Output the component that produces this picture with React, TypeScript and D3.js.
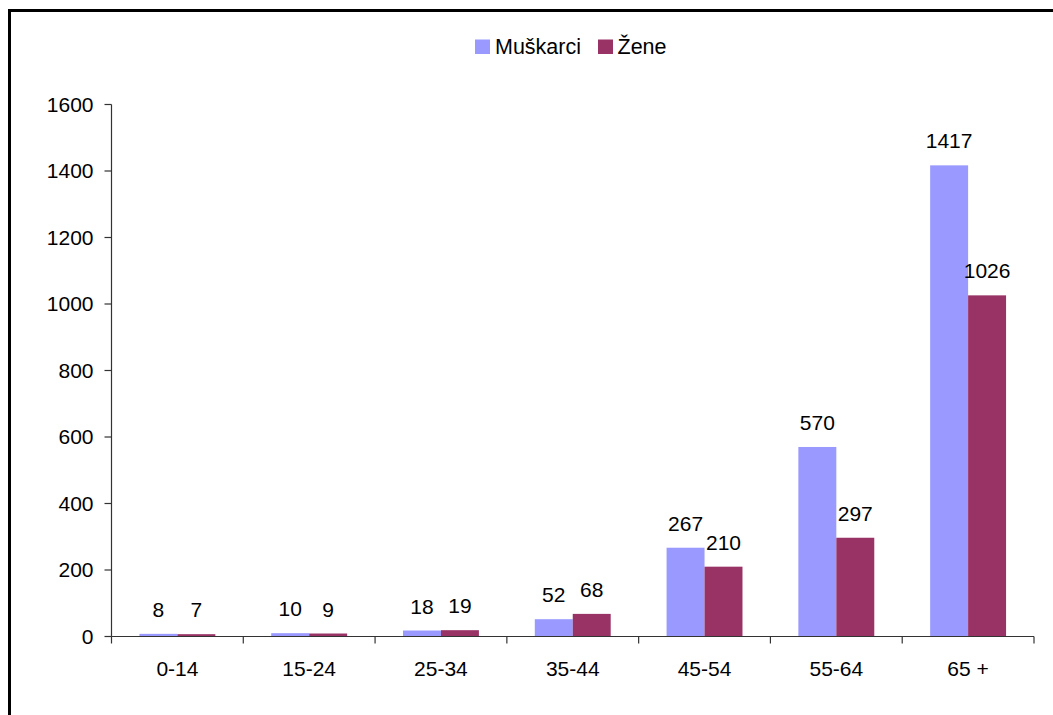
import React from "react";
import * as d3 from "d3";

const categories = ["0-14", "15-24", "25-34", "35-44", "45-54", "55-64", "65 +"];
const men = [8, 10, 18, 52, 267, 570, 1417];
const women = [7, 9, 19, 68, 210, 297, 1026];
const seriesNames = ["Muškarci", "Žene"];
const seriesColors = ["#9999FF", "#993366"];
const yTicks = [0, 200, 400, 600, 800, 1000, 1200, 1400, 1600];

const W = 1053;
const H = 715;
const left = 111.5;
const right = 1034;
const top = 104.5;
const bottom = 636.5;
const FONT = "Arial, 'Liberation Sans', sans-serif";
const FS = 21;

export default function App() {
  const y = d3.scaleLinear().domain([0, 1600]).range([bottom, top]);
  const pad = 0.424;
  const x = d3
    .scaleBand<string>()
    .domain(categories)
    .range([left, right])
    .paddingInner(pad)
    .paddingOuter(pad / 2);
  const inner = d3
    .scaleBand<number>()
    .domain([0, 1])
    .range([0, x.bandwidth()]);
  const step = x.step();
  const series = [men, women];

  return (
    <svg
      width={W}
      height={H}
      style={{ position: "absolute", left: 0, top: 0, background: "#fff" }}
      fontFamily={FONT}
    >
      <rect x={0} y={0} width={W} height={H} fill="#fff" />
      <rect x={9.5} y={10.5} width={W + 20} height={H + 20} fill="none" stroke="#000" strokeWidth={3} />

      {/* legend */}
      <g>
        <rect x={475} y={39.5} width={15} height={14.5} fill={seriesColors[0]} />
        <text x={495} y={53.5} fontSize={FS + 0.5} fill="#000">{seriesNames[0]}</text>
        <rect x={598} y={39.5} width={15} height={14.5} fill={seriesColors[1]} />
        <text x={617.5} y={53.5} fontSize={FS + 0.5} fill="#000">{seriesNames[1]}</text>
      </g>

      {/* bars */}
      {series.map((vals, si) =>
        vals.map((v, i) => {
          const bx = (x(categories[i]) as number) + (inner(si) as number);
          return (
            <rect
              key={`b${si}-${i}`}
              x={bx}
              y={y(v)}
              width={inner.bandwidth()}
              height={y(0) - y(v)}
              fill={seriesColors[si]}
            />
          );
        })
      )}

      {/* value labels */}
      {series.map((vals, si) =>
        vals.map((v, i) => {
          const bx = (x(categories[i]) as number) + (inner(si) as number) + inner.bandwidth() / 2;
          return (
            <text
              key={`l${si}-${i}`}
              x={bx}
              y={y(v) - 17}
              fontSize={FS}
              textAnchor="middle"
              fill="#000"
            >
              {v}
            </text>
          );
        })
      )}

      {/* y axis */}
      <line x1={left} x2={left} y1={top} y2={bottom} stroke="#333" strokeWidth={1.2} />
      {yTicks.map((t) => (
        <g key={`yt${t}`}>
          <line x1={left - 7} x2={left} y1={y(t)} y2={y(t)} stroke="#333" strokeWidth={1.2} />
          <text x={left - 18} y={y(t) + 7} fontSize={FS} textAnchor="end" fill="#000">
            {t}
          </text>
        </g>
      ))}

      {/* x axis */}
      <line x1={left} x2={right} y1={bottom} y2={bottom} stroke="#333" strokeWidth={1.2} />
      {d3.range(categories.length + 1).map((k) => (
        <line
          key={`xt${k}`}
          x1={left + k * step}
          x2={left + k * step}
          y1={bottom}
          y2={bottom + 7}
          stroke="#333"
          strokeWidth={1.2}
        />
      ))}
      {categories.map((c) => (
        <text
          key={`xl${c}`}
          x={(x(c) as number) + x.bandwidth() / 2}
          y={676}
          fontSize={FS}
          textAnchor="middle"
          fill="#000"
        >
          {c}
        </text>
      ))}
    </svg>
  );
}
